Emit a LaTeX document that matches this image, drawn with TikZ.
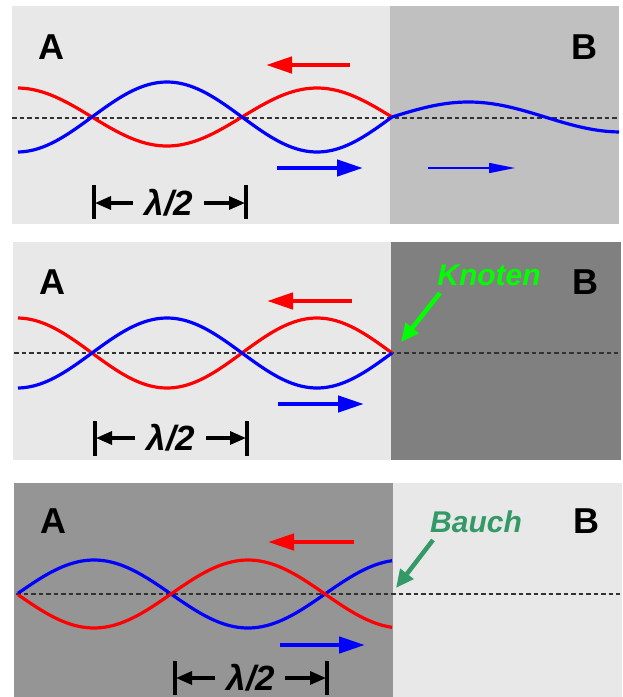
\documentclass[tikz,border=0pt]{standalone}
\usepackage{fontspec}
\setmainfont{Liberation Sans}
\usetikzlibrary{arrows.meta}
\definecolor{lightbg}{RGB}{232,232,232}
\definecolor{midbg}{RGB}{192,192,192}
\definecolor{darkbg}{RGB}{128,128,128}
\definecolor{panelthree}{RGB}{149,149,149}
\definecolor{wred}{RGB}{255,0,0}
\definecolor{wblue}{RGB}{0,0,255}
\definecolor{knotgreen}{RGB}{0,255,0}
\definecolor{bauchgreen}{RGB}{51,153,102}
\definecolor{dashgray}{RGB}{50,50,50}
\tikzset{
  wave/.style={line width=3.2pt},
  axisline/.style={dashgray, line width=1.1pt, dash pattern=on 4.5pt off 3pt},
  bigarrow/.style={line width=4.5pt, -{Triangle[length=26pt,width=16pt]}},
  thinarrow/.style={line width=1.5pt, -{Triangle[length=26pt,width=10pt]}},
  dimarrow/.style={line width=3.2pt, -{Triangle[length=16pt,width=13pt]}},
  dimbar/.style={line width=3.2pt},
  letter/.style={inner sep=0pt, font=\fontsize{36}{36}\selectfont\bfseries},
  lamlabel/.style={inner sep=0pt, font=\fontsize{35}{35}\selectfont\bfseries\itshape},
  pointlabel/.style={inner sep=0pt, font=\fontsize{30}{30}\selectfont\bfseries\itshape},
  pointarrow/.style={line width=4.5pt, -{Triangle[length=18pt,width=16pt]}}
}
\begin{document}
\begin{tikzpicture}[x=1pt,y=-1pt]
\useasboundingbox (0,0) rectangle (623,697);

% ---------------- Panel 1 ----------------
\fill[lightbg] (12,6) rectangle (390,224);
\fill[midbg] (390,6) rectangle (619,224);
\draw[axisline] (12,118) -- (619,118);
\draw[wave, wred] plot[domain=18:392, samples=120] (\x,{117+29*sin(1.2*(\x-392))});
\draw[wave, wblue] plot[domain=18:392, samples=120] (\x,{117-35*sin(1.2*(\x-392))});
\draw[wave, wblue] plot[domain=392:619, samples=80] (\x,{117-15*sin(1.17647*(\x-392))});
\node[letter] (A1) at (51,47) {A};
\node[letter] (B1) at (584,47) {B};
\coordinate (r1s) at (350,65); \coordinate (r1e) at (266,65);
\draw[bigarrow, wred] (r1s) -- (r1e);
\coordinate (b1s) at (277,168); \coordinate (b1e) at (363,168);
\draw[bigarrow, wblue] (b1s) -- (b1e);
\coordinate (t1s) at (428,168); \coordinate (t1e) at (515,168);
\draw[thinarrow, wblue] (t1s) -- (t1e);
\node[lamlabel] (L1) at (169,203) {λ/2};
\coordinate (L1a) at (94,185); \coordinate (L1b) at (94,219);
\coordinate (L1c) at (246,185); \coordinate (L1d) at (246,219);
\draw[dimbar] (L1a) -- (L1b);
\draw[dimbar] (L1c) -- (L1d);
\coordinate (L1l) at (133,203); \coordinate (L1lt) at (95,203);
\coordinate (L1r) at (204,203); \coordinate (L1rt) at (245,203);
\draw[dimarrow] (L1l) -- (L1lt);
\draw[dimarrow] (L1r) -- (L1rt);

% ---------------- Panel 2 ----------------
\fill[lightbg] (13,242) rectangle (391,460);
\fill[darkbg] (391,242) rectangle (621,460);
\draw[axisline] (14,353) -- (618,353);
\draw[wave, wred] plot[domain=18:392, samples=120] (\x,{353+35*sin(1.2*(\x-392))});
\draw[wave, wblue] plot[domain=18:392, samples=120] (\x,{353-35*sin(1.2*(\x-392))});
\node[letter] (A2) at (52,282) {A};
\node[letter] (B2) at (585,282) {B};
\coordinate (r2s) at (352,301); \coordinate (r2e) at (267,301);
\draw[bigarrow, wred] (r2s) -- (r2e);
\coordinate (b2s) at (278,404); \coordinate (b2e) at (364,404);
\draw[bigarrow, wblue] (b2s) -- (b2e);
\node[lamlabel] (L2) at (171,438) {λ/2};
\coordinate (L2a) at (95,421); \coordinate (L2b) at (95,456);
\coordinate (L2c) at (247,421); \coordinate (L2d) at (247,456);
\draw[dimbar] (L2a) -- (L2b);
\draw[dimbar] (L2c) -- (L2d);
\coordinate (L2l) at (135,438); \coordinate (L2lt) at (96,438);
\coordinate (L2r) at (206,438); \coordinate (L2rt) at (246,438);
\draw[dimarrow] (L2l) -- (L2lt);
\draw[dimarrow] (L2r) -- (L2rt);
\node[pointlabel, text=knotgreen] (K) at (489,275) {Knoten};
\coordinate (Ks) at (440,293); \coordinate (Ke) at (401,342);
\draw[pointarrow, knotgreen] (Ks) -- (Ke);

% ---------------- Panel 3 ----------------
\fill[panelthree] (14,483) rectangle (393,697);
\fill[lightbg] (393,483) rectangle (622,697);
\draw[axisline] (16,594) -- (620,594);
\draw[wave, wblue] plot[domain=18:392, samples=120] (\x,{594-34*sin(1.16883*(\x-17))});
\draw[wave, wred] plot[domain=18:392, samples=120] (\x,{594+34*sin(1.16883*(\x-17))});
\node[letter] (A3) at (53,521) {A};
\node[letter] (B3) at (586,521) {B};
\coordinate (r3s) at (354,542); \coordinate (r3e) at (268,542);
\draw[bigarrow, wred] (r3s) -- (r3e);
\coordinate (b3s) at (280,645); \coordinate (b3e) at (365,645);
\draw[bigarrow, wblue] (b3s) -- (b3e);
\node[lamlabel] (L3) at (251,678) {λ/2};
\coordinate (L3a) at (175,661); \coordinate (L3b) at (175,695);
\coordinate (L3c) at (327,661); \coordinate (L3d) at (327,695);
\draw[dimbar] (L3a) -- (L3b);
\draw[dimbar] (L3c) -- (L3d);
\coordinate (L3l) at (215,678); \coordinate (L3lt) at (176,678);
\coordinate (L3r) at (285,678); \coordinate (L3rt) at (326,678);
\draw[dimarrow] (L3l) -- (L3lt);
\draw[dimarrow] (L3r) -- (L3rt);
\node[pointlabel, text=bauchgreen] (Bc) at (476,522) {Bauch};
\coordinate (Bs) at (433,540); \coordinate (Be) at (396,588);
\draw[pointarrow, bauchgreen] (Bs) -- (Be);
\end{tikzpicture}
\end{document}
